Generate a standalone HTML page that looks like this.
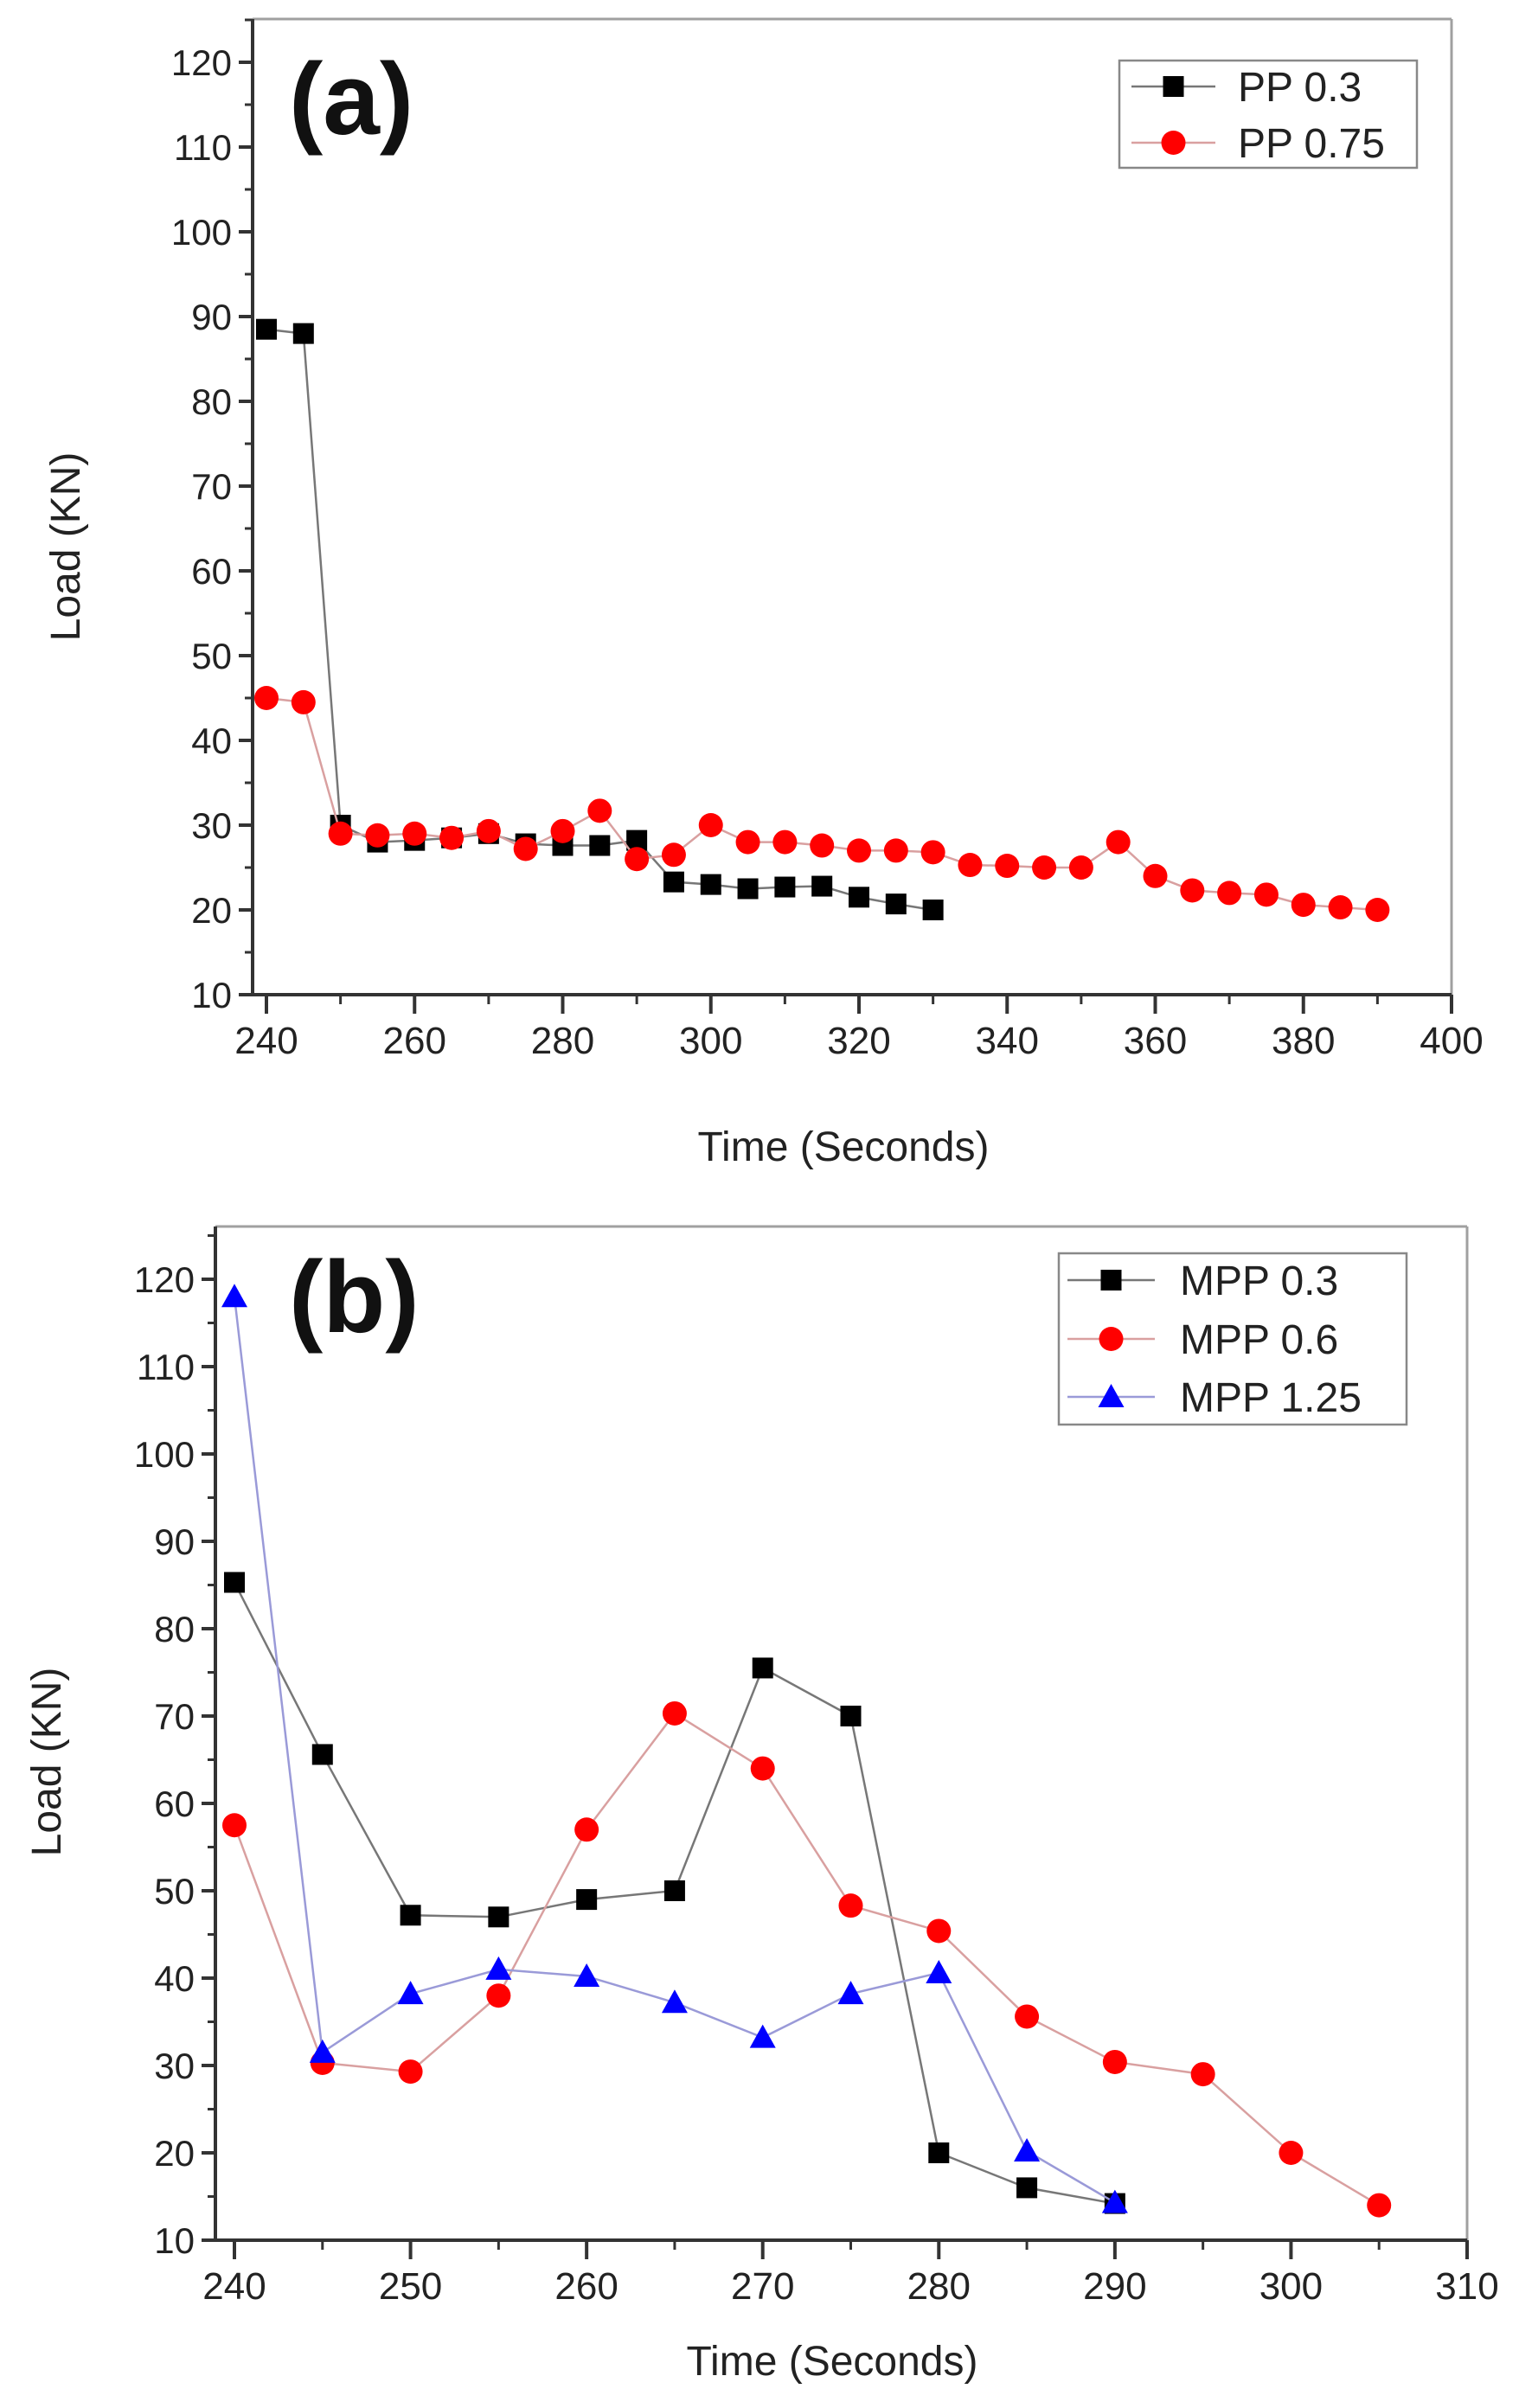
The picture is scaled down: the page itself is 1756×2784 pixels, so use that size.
<!DOCTYPE html>
<html><head><meta charset="utf-8"><style>
html,body{margin:0;padding:0;background:#fff;}
svg{display:block;font-family:"Liberation Sans",Arial,sans-serif;}
</style></head><body>
<svg id="fig" width="1756" height="2784" viewBox="0 0 1756 2784" xmlns="http://www.w3.org/2000/svg"></svg>
<script>
// Panel (a) data
const aTimes1 = [240,245,250,255,260,265,270,275,280,285,290,295,300,305,310,315,320,325,330];
const aPP03 = [88.5,88,30,28,28.2,28.5,29,27.8,27.6,27.6,28.2,23.3,23,22.5,22.7,22.8,21.5,20.7,20];
const aTimes2 = [240,245,250,255,260,265,270,275,280,285,290,295,300,305,310,315,320,325,330,335,340,345,350,355,360,365,370,375,380,385,390];
const aPP075 = [45,44.5,29,28.8,29,28.5,29.3,27.2,29.3,31.7,26,26.5,30,28,28,27.6,27,27,26.8,25.3,25.2,25,25,28,24,22.3,22,21.8,20.6,20.3,20];
const aXTicks = [240,260,280,300,320,340,360,380,400];
const aYTicks = [10,20,30,40,50,60,70,80,90,100,110,120];
// Panel (b) data
const bTimes1 = [240,245,250,255,260,265,270,275,280,285,290];
const bMPP03 = [85.3,65.6,47.2,47,49,50,75.5,70,20,16,14.2];
const bTimes2 = [240,245,250,255,260,265,270,275,280,285,290,295,300,305];
const bMPP06 = [57.5,30.3,29.3,38,57,70.3,64,48.3,45.4,35.6,30.4,29,20,14];
const bTimes3 = [240,245,250,255,260,265,270,275,280,285,290];
const bMPP125 = [118,31.5,38.2,41,40.2,37.2,33.2,38.2,40.6,20.2,14.3];
const bXTicks = [240,250,260,270,280,290,300,310];
const bYTicks = [10,20,30,40,50,60,70,80,90,100,110,120];

const NS="http://www.w3.org/2000/svg";
const svg=document.getElementById('fig');
function mk(tag,attrs,parent,text){const e=document.createElementNS(NS,tag);for(const k in attrs)e.setAttribute(k,attrs[k]);if(text!==undefined)e.textContent=text;(parent||svg).appendChild(e);return e;}

function marker(g,type,cx,cy,color){
  let m;
  if(type==='sq'){m=mk('rect',{x:cx-12,y:cy-12,width:24,height:24,fill:color},g);}
  else if(type==='ci'){m=mk('circle',{cx:cx,cy:cy,r:14,fill:color},g);}
  else {m=mk('polygon',{points:`${cx},${cy-15} ${cx+15},${cy+12} ${cx-15},${cy+12}`,fill:color},g);}
  return m;
}

function panel(cfg){
  const {L,R,T,B,x0,x1,xs0,y0,ys0,yPer10,xTicks,xMinor,yTicks,name}=cfg;
  const X=v=>x0+(v-xs0)*(x1-x0)/cfg.xSpan;
  const Y=v=>y0-(v-ys0)*yPer10/10;
  const g=mk('g',{});
  
  
  mk('line',{x1:L,y1:T,x2:R,y2:T,stroke:'#a0a0a0','stroke-width':3},g);
  mk('line',{x1:R,y1:T,x2:R,y2:B,stroke:'#a0a0a0','stroke-width':3},g);
  const ya=mk('line',{x1:L,y1:T,x2:L,y2:B+2,stroke:'#333','stroke-width':4},g);
  
  
  const xa=mk('line',{x1:L-2,y1:B,x2:R,y2:B,stroke:'#333','stroke-width':4},g);
  
  
  yTicks.forEach(v=>{
    const y=Y(v);
    mk('line',{x1:L-16,y1:y,x2:L,y2:y,stroke:'#333','stroke-width':4},g);
    const t=mk('text',{x:L-24,y:y+15,'text-anchor':'end','font-size':42,fill:'#222'},g,String(v));
    
    
    if(v+5<=cfg.yMax){mk('line',{x1:L-9,y1:Y(v+5),x2:L,y2:Y(v+5),stroke:'#333','stroke-width':3},g);}
  });
  xTicks.forEach((v,i)=>{
    const x=X(v);
    mk('line',{x1:x,y1:B,x2:x,y2:B+22,stroke:'#333','stroke-width':4},g);
    const t=mk('text',{x:x,y:cfg.xLabY,'text-anchor':'middle','font-size':44,fill:'#222'},g,String(v));
    
    
    if(i<xTicks.length-1){const xm=X(v+xMinor);mk('line',{x1:xm,y1:B,x2:xm,y2:B+11,stroke:'#333','stroke-width':3},g);}
  });
  const xt=mk('text',{x:cfg.xTitle[0],y:cfg.xTitle[1],'text-anchor':'middle','font-size':48,fill:'#222'},g,'Time (Seconds)');
  
  
  const yt=mk('text',{x:0,y:0,'text-anchor':'middle','font-size':48,fill:'#222',transform:`translate(${cfg.yTitle[0]},${cfg.yTitle[1]}) rotate(-90)`},g,'Load (KN)');
  
  
  const pl=mk('text',{x:cfg.plabel[0],y:cfg.plabel[1],'font-size':118,'font-weight':'bold',fill:'#111'},g,cfg.plabel[2]);
  
  
  cfg.series.forEach(s=>{
    const sg=mk('g',{},g);
    
    
    const pts=s.xs.map((v,i)=>X(v)+','+Y(s.ys[i])).join(' ');
    const ln=mk('polyline',{points:pts,fill:'none',stroke:s.line,'stroke-width':2.5},sg);
    
    
    s.xs.forEach((v,i)=>{
      const m=marker(sg,s.type,X(v),Y(s.ys[i]),s.color);
      
      
    });
  });
  const lg=mk('g',{},g);
  
  
  const Lb=cfg.legend;
  mk('rect',{x:Lb.x,y:Lb.y,width:Lb.w,height:Lb.h,fill:'#fff',stroke:'#888','stroke-width':2.5},lg);
  cfg.series.forEach((s,i)=>{
    const ry=Lb.rows[i];
    const e=mk('g',{},lg);
    
    
    mk('line',{x1:Lb.l1,y1:ry,x2:Lb.l2,y2:ry,stroke:s.line,'stroke-width':2.5},e);
    marker(e,s.type,(Lb.l1+Lb.l2)/2,ry,s.color);
    mk('text',{x:Lb.tx,y:ry+17,'font-size':48,fill:'#222'},e,s.label);
  });
}

panel({name:'chart-a',L:292,R:1678,T:22,B:1150,x0:308,x1:1678,xs0:240,xSpan:160,y0:1150,ys0:10,yPer10:98,yMax:125,
  xTicks:aXTicks,xMinor:10,yTicks:aYTicks,xLabY:1218,xTitle:[975,1342],yTitle:[92,632],plabel:[334,155,'(a)'],
  legend:{x:1294,y:70,w:344,h:124,rows:[100,165],l1:1308,l2:1405,tx:1431},
  series:[
   {key:'pp-0-3',label:'PP 0.3',xs:aTimes1,ys:aPP03,type:'sq',color:'#000',line:'#777'},
   {key:'pp-0-75',label:'PP 0.75',xs:aTimes2,ys:aPP075,type:'ci',color:'#f00',line:'#d9a0a0'}
  ]});
panel({name:'chart-b',L:249,R:1696,T:1418,B:2590,x0:271,x1:1696,xs0:240,xSpan:70,y0:2590,ys0:10,yPer10:101,yMax:125,
  xTicks:bXTicks,xMinor:5,yTicks:bYTicks,xLabY:2658,xTitle:[962,2746],yTitle:[70,2037],plabel:[334,1540,'(b)'],
  legend:{x:1224,y:1449,w:402,h:198,rows:[1480,1548,1615],l1:1234,l2:1335,tx:1364},
  series:[
   {key:'mpp-0-3',label:'MPP 0.3',xs:bTimes1,ys:bMPP03,type:'sq',color:'#000',line:'#777'},
   {key:'mpp-0-6',label:'MPP 0.6',xs:bTimes2,ys:bMPP06,type:'ci',color:'#f00',line:'#d9a0a0'},
   {key:'mpp-1-25',label:'MPP 1.25',xs:bTimes3,ys:bMPP125,type:'tri',color:'#00f',line:'#9a9ad8'}
  ]});
</script>
</body></html>
